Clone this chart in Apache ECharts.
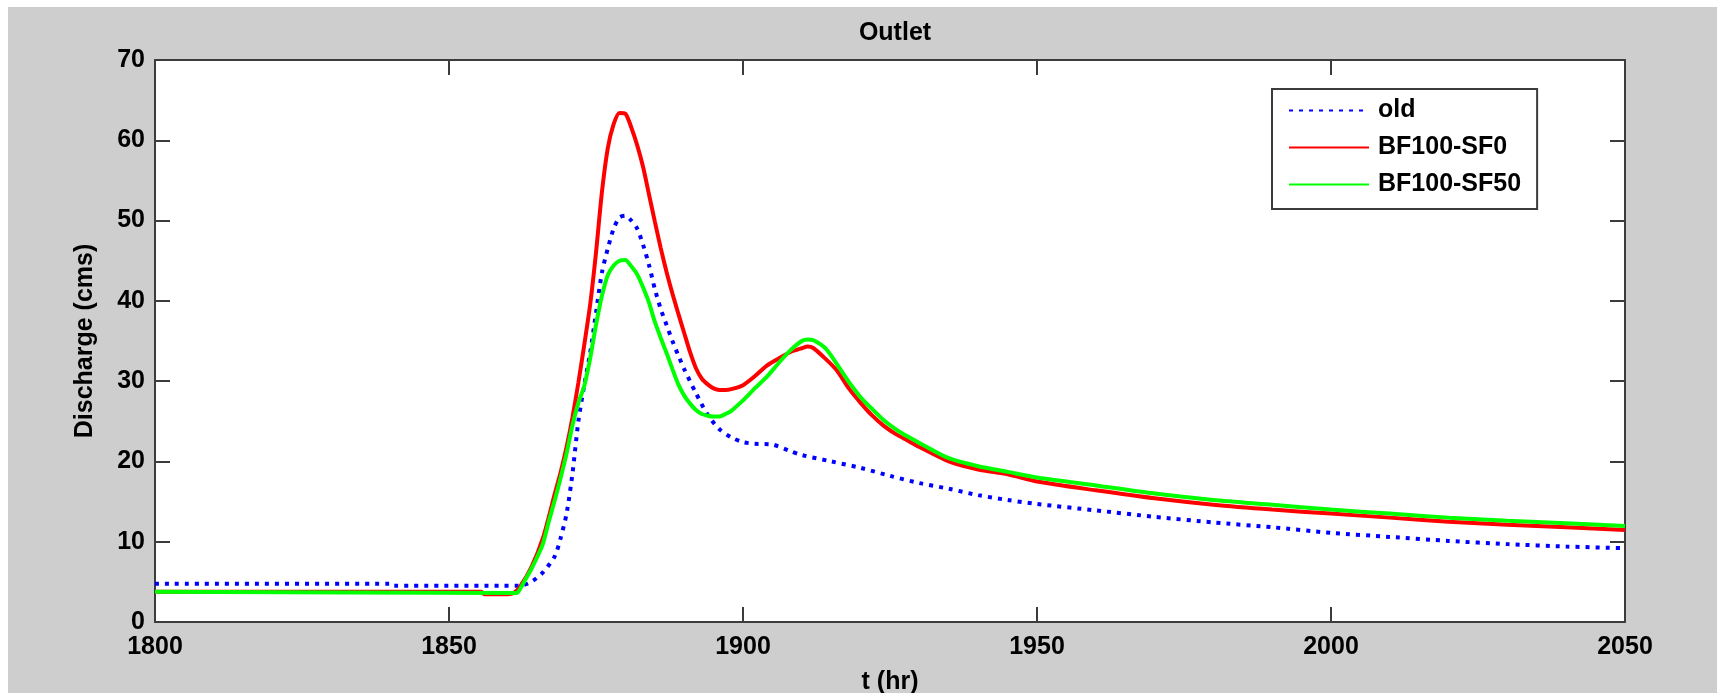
<!DOCTYPE html>
<html><head><meta charset="utf-8">
<script src="https://cdn.jsdelivr.net/npm/echarts@6/dist/echarts.min.js"></script>
<style>
html,body{margin:0;padding:0;background:#fff;overflow:hidden;}
#bg{position:absolute;left:8px;top:7px;width:1709px;height:686px;background:#cecece;}
#chart{position:absolute;left:0;top:0;width:1717px;height:693px;}
</style></head><body>
<div id="bg"></div><div id="chart"></div>
<script>
// Axis ticks
const xTicks = [1800, 1850, 1900, 1950, 2000, 2050];
const yTicks = [0, 10, 20, 30, 40, 50, 60, 70];

// Series "old"
const tOld = [1800,1840,1840.5,1862,1864,1866,1868,1869,1870,1871,1872,1873,1874,1875,1876,1877,1878,1879,1880,1881,1882,1883,1884,1885,1886,1887,1888,1889,1890,1892,1894,1896,1898,1900,1902,1905,1908,1910,1915,1920,1925,1930,1935,1940,1945,1950,1960,1970,1980,1990,2000,2010,2020,2030,2040,2050];
const qOld = [4.75,4.75,4.5,4.5,5.0,6.2,8.2,10.5,13.5,18.5,25,29.5,33.5,38.5,43.5,46.5,49,50.4,50.6,50,49,47,44.5,41.5,39,37,35,33.2,31.5,28.5,25.8,24,23,22.4,22.2,22.1,21.3,20.8,20.0,19.2,18.2,17.3,16.6,15.8,15.2,14.7,13.9,13.1,12.4,11.8,11.1,10.6,10.1,9.7,9.4,9.2];

// Series "BF100-SF0"
const tSF0 = [1800,1855.5,1856,1860,1861,1862,1864,1866,1868,1869,1870,1871,1872,1873,1874,1875,1876,1877,1878,1879,1880,1881,1882,1883,1884,1885,1886,1887,1888,1889,1890,1891,1892,1893,1894,1895,1896,1897,1898,1900,1902,1904,1906,1908,1910,1911,1912,1914,1916,1918,1920,1922,1924,1926,1928,1930,1935,1940,1945,1950,1960,1970,1980,1990,2000,2010,2020,2030,2040,2050];
const qSF0 = [3.77,3.77,3.45,3.45,3.6,4.3,6.8,10.5,16,18.7,21.8,25.5,29.8,34.5,39.5,46,53.5,59,62,63.4,63.3,61.6,59.4,56.7,53.3,49.9,46.6,43.6,40.9,38.4,36.0,33.6,31.6,30.3,29.6,29.1,28.9,28.9,29.0,29.5,30.6,31.9,32.8,33.6,34.1,34.3,34.1,32.8,31.3,29.1,27.3,25.7,24.4,23.4,22.6,21.8,20.0,19.0,18.4,17.5,16.4,15.4,14.6,14.0,13.5,13.0,12.5,12.1,11.8,11.45];

// Series "BF100-SF50"
const tSF50 = [1800,1861.5,1862,1863,1864,1865,1866,1867,1868,1869,1870,1871,1872,1873,1874,1875,1876,1877,1878,1879,1880,1881,1882,1883,1884,1885,1886,1887,1888,1889,1890,1891,1892,1893,1894,1895,1896,1897,1898,1900,1902,1904,1906,1908,1910,1911,1912,1914,1916,1918,1920,1922,1924,1926,1928,1930,1935,1940,1945,1950,1960,1970,1980,1990,2000,2010,2020,2030,2040,2050];
const qSF50 = [3.77,3.6,4.0,5.3,6.6,8.1,9.8,12.6,15.2,18.0,21.0,24.5,27.3,29.4,32.8,37.0,40.6,43.2,44.4,45.0,45.1,44.3,43.3,41.7,39.8,37.4,35.4,33.5,31.5,29.6,28.2,27.2,26.4,25.9,25.7,25.6,25.6,25.9,26.3,27.6,29.1,30.5,32.2,33.8,35.0,35.2,35.1,34.1,32.1,29.9,28.0,26.5,25.1,24.0,23.1,22.3,20.4,19.4,18.7,18.0,17.0,16.0,15.2,14.6,14.0,13.5,13.0,12.6,12.3,11.95];

const pairs = (t, q) => t.map((v, i) => [v, q[i]]);
const FONT = "'Liberation Sans', Arial, sans-serif";
const AX = '#3c3c3c';
const TXT = { fontFamily: FONT, fontWeight: 'bold', fontSize: 25, color: '#000' };

const chart = echarts.init(document.getElementById('chart'));
const xBase = {
  type: 'value', min: xTicks[0], max: xTicks[xTicks.length - 1], interval: 50,
  axisLine: { show: true, onZero: false, lineStyle: { color: AX, width: 2 } },
  axisTick: { show: true, inside: true, length: 15, lineStyle: { color: AX, width: 2 } },
  splitLine: { show: false }
};
const yBase = {
  type: 'value', min: yTicks[0], max: yTicks[yTicks.length - 1], interval: 10,
  axisLine: { show: true, onZero: false, lineStyle: { color: AX, width: 2 } },
  axisTick: { show: true, inside: true, length: 15, lineStyle: { color: AX, width: 2 } },
  splitLine: { show: false }
};
const lineSeries = (name, t, q, color, extra) => Object.assign({
  name, type: 'line', data: pairs(t, q), symbol: 'none', showSymbol: false,
  smooth: 0.25,
  lineStyle: { color, width: 4 }, itemStyle: { color }
}, extra || {});

chart.setOption({
  backgroundColor: 'transparent',
  animation: false,
  title: {
    text: 'Outlet', left: 890, top: 16, textAlign: 'center',
    textStyle: TXT
  },
  grid: { left: 155, top: 60, right: 92, bottom: 71, show: true, backgroundColor: '#fff', borderWidth: 0,
          containLabel: false, outerBoundsMode: 'none' },
  legend: {
    orient: 'vertical', left: 1272, top: 89,
    padding: [9, 16, 12, 16], itemGap: 12, itemWidth: 80, itemHeight: 25,
    backgroundColor: '#fff', borderColor: AX, borderWidth: 2, borderRadius: 0,
    itemStyle: { opacity: 0 },
    textStyle: Object.assign({ padding: [0, 0, 0, 4] }, TXT),
    data: ['old', 'BF100-SF0', 'BF100-SF50']
  },
  xAxis: [
    Object.assign({}, xBase, {
      position: 'bottom', name: 't (hr)', nameLocation: 'middle', nameGap: 48,
      nameTextStyle: TXT,
      axisLabel: Object.assign({ show: true, margin: 13, formatter: v => String(v) }, TXT)
    }),
    Object.assign({}, xBase, { position: 'top', axisLabel: { show: false } })
  ],
  yAxis: [
    Object.assign({}, yBase, {
      position: 'left', name: 'Discharge (cms)', nameLocation: 'middle', nameGap: 57,
      nameTextStyle: TXT,
      axisLabel: Object.assign({ show: true, margin: 10, formatter: v => String(v) }, TXT)
    }),
    Object.assign({}, yBase, { position: 'right', axisLabel: { show: false } })
  ],
  series: [
    lineSeries('old', tOld, qOld, '#0000ff', {
      lineStyle: { color: '#0000ff', width: 4, type: [4, 6], cap: 'butt' }, z: 2
    }),
    lineSeries('BF100-SF0', tSF0, qSF0, '#ff0000', { z: 3 }),
    lineSeries('BF100-SF50', tSF50, qSF50, '#00ff00', { z: 4 })
  ]
});
</script>
</body></html>
